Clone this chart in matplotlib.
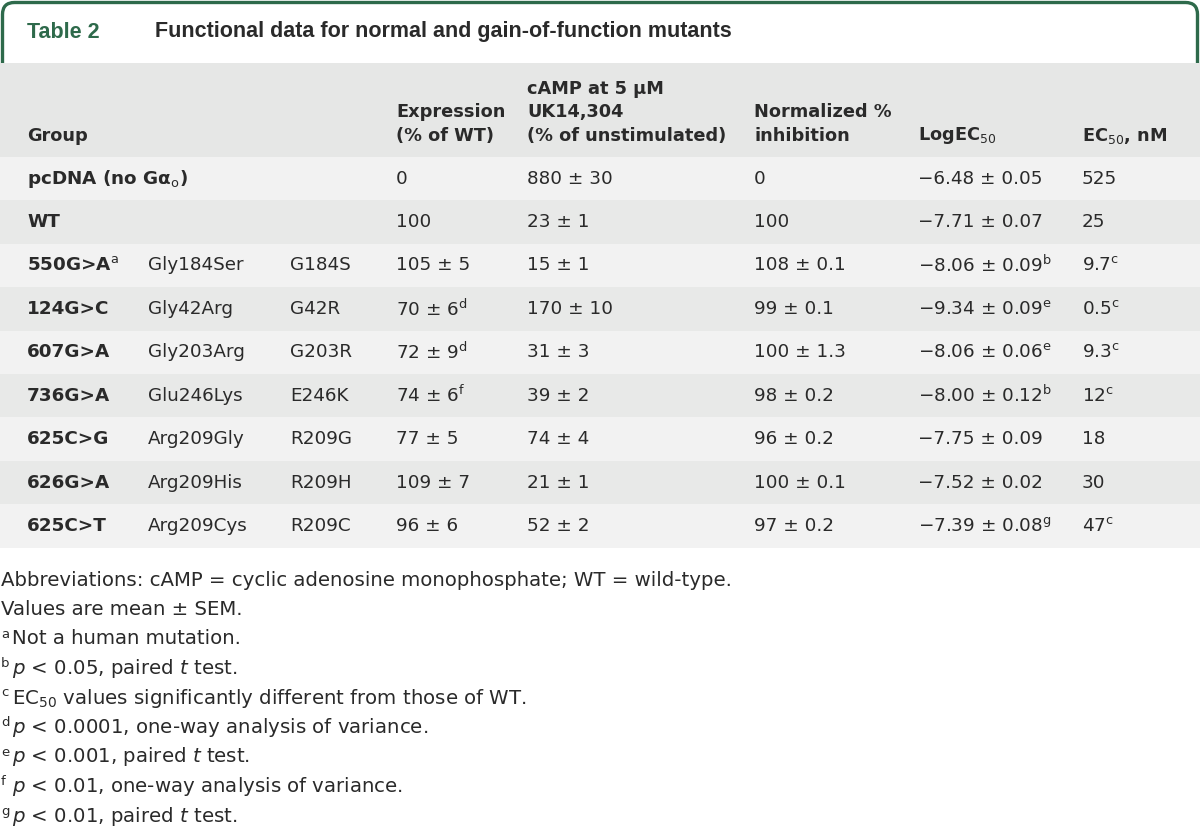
import matplotlib
matplotlib.use('Agg')
import matplotlib.pyplot as plt
import matplotlib.patches as mpatches

plt.rcParams['font.family'] = ['DejaVu Sans']
plt.rcParams['mathtext.fontset'] = 'custom'
plt.rcParams['mathtext.rm'] = 'DejaVu Sans'
plt.rcParams['mathtext.it'] = 'DejaVu Sans:italic'
plt.rcParams['mathtext.bf'] = 'DejaVu Sans:bold'

MINUS = '\u2212'

# ---- table data ----
table_no = 'Table 2'
title = 'Functional data for normal and gain-of-function mutants'

header_lines = [
    ['', '', '', '', 'cAMP at 5 \u03bcM', '', '', ''],
    ['', '', '', 'Expression', 'UK14,304', 'Normalized %', '', ''],
    ['Group', '', '', '(% of WT)', '(% of unstimulated)', 'inhibition',
     'LogEC$_{50}$', 'EC$_{50}$, nM'],
]

groups = ['pcDNA (no G\u03b1$_{\\mathrm{o}}$)', 'WT', '550G>A', '124G>C', '607G>A',
          '736G>A', '625C>G', '626G>A', '625C>T']
group_sup = ['', '', 'a', '', '', '', '', '', '']
protein = ['', '', 'Gly184Ser', 'Gly42Arg', 'Gly203Arg', 'Glu246Lys',
           'Arg209Gly', 'Arg209His', 'Arg209Cys']
short = ['', '', 'G184S', 'G42R', 'G203R', 'E246K', 'R209G', 'R209H', 'R209C']

expr = [0, 100, 105, 70, 72, 74, 77, 109, 96]
expr_sem = [None, None, 5, 6, 9, 6, 5, 7, 6]
expr_sup = ['', '', '', 'd', 'd', 'f', '', '', '']

camp = [880, 23, 15, 170, 31, 39, 74, 21, 52]
camp_sem = [30, 1, 1, 10, 3, 2, 4, 1, 2]

inhib = [0, 100, 108, 99, 100, 98, 96, 100, 97]
inhib_sem = [None, None, 0.1, 0.1, 1.3, 0.2, 0.2, 0.1, 0.2]

logec = [-6.48, -7.71, -8.06, -9.34, -8.06, -8.00, -7.75, -7.52, -7.39]
logec_sem = [0.05, 0.07, 0.09, 0.09, 0.06, 0.12, 0.09, 0.02, 0.08]
logec_sup = ['', '', 'b', 'e', 'e', 'b', '', '', 'g']

ec50 = [525, 25, 9.7, 0.5, 9.3, 12, 18, 30, 47]
ec50_sup = ['', '', 'c', 'c', 'c', 'c', '', '', 'c']

footnotes = [
    ('', 'Abbreviations: cAMP = cyclic adenosine monophosphate; WT = wild-type.'),
    ('', 'Values are mean \u00b1 SEM.'),
    ('a', 'Not a human mutation.'),
    ('b', '$p$ < 0.05, paired $t$ test.'),
    ('c', 'EC$_{50}$ values significantly different from those of WT.'),
    ('d', '$p$ < 0.0001, one-way analysis of variance.'),
    ('e', '$p$ < 0.001, paired $t$ test.'),
    ('f', '$p$ < 0.01, one-way analysis of variance.'),
    ('g', '$p$ < 0.01, paired $t$ test.'),
]


def sup(s):
    return '$^{\\mathrm{%s}}$' % s if s else ''


def num(v, fmt):
    s = format(v, fmt)
    return s.replace('-', MINUS)


def pm(m, e, fmt_m, fmt_e, s=''):
    if e is None:
        return num(m, fmt_m) + sup(s)
    return num(m, fmt_m) + ' \u00b1 ' + num(e, fmt_e) + sup(s)


# ---- layout (pixels) ----
W, H = 1200, 826
green = '#2e6a4b'
txt = '#2a2a2a'
col_x = [27, 148, 290, 396, 527, 754, 918, 1082]
head_top, head_bot = 63, 157
row_h = 43.4
fs = 13.2       # table body
fs_head = 12.8  # header
fs_note = 14.2  # footnotes

fig = plt.figure(figsize=(W / 100, H / 100), dpi=100)
ax = fig.add_axes([0, 0, 1, 1])
ax.set_xlim(0, W)
ax.set_ylim(H, 0)
ax.set_axis_off()

# title box with rounded top corners
box = mpatches.FancyBboxPatch((2.5, 2.5), W - 5, 120,
                              boxstyle='round,pad=0,rounding_size=12',
                              facecolor='white', edgecolor=green, linewidth=2.4,
                              zorder=1)
ax.add_patch(box)
ax.add_patch(mpatches.Rectangle((0, head_top), W, H - head_top,
                                facecolor='white', edgecolor='none', zorder=2))
ax.text(27, 32, table_no, color=green, fontsize=15.5, fontweight='bold',
        family='Liberation Sans', va='center', zorder=3)
ax.text(155, 32, title, color=txt, fontsize=15.5, fontweight='bold',
        family='Liberation Sans', va='center', zorder=3)

# header band
ax.add_patch(mpatches.Rectangle((0, head_top), W, head_bot - head_top,
                                facecolor='#e6e7e6', edgecolor='none', zorder=2))
for li, y in enumerate([89, 112, 136]):
    for ci, lab in enumerate(header_lines[li]):
        if lab:
            ax.text(col_x[ci], y, lab, color=txt, fontsize=fs_head, fontweight='bold',
                    va='center', zorder=3)

# body rows
for i in range(len(groups)):
    top = head_bot + i * row_h
    shade = '#f2f2f2' if i % 2 == 0 else '#e8e9e8'
    ax.add_patch(mpatches.Rectangle((0, top), W, row_h, facecolor=shade,
                                    edgecolor='none', zorder=2))
    y = top + row_h / 2
    cells = [
        protein[i],
        short[i],
        pm(expr[i], expr_sem[i], 'd', 'd', expr_sup[i]),
        pm(camp[i], camp_sem[i], 'd', 'd'),
        pm(inhib[i], inhib_sem[i], 'd', '.1f'),
        pm(logec[i], logec_sem[i], '.2f', '.2f', logec_sup[i]),
        num(ec50[i], 'g') + sup(ec50_sup[i]),
    ]
    ax.text(col_x[0], y, groups[i] + sup(group_sup[i]), color=txt, fontsize=fs,
            fontweight='bold', va='center', zorder=3)
    for ci, c in enumerate(cells):
        if c:
            ax.text(col_x[ci + 1], y, c, color=txt, fontsize=fs, va='center', zorder=3)

# footnotes
for k, (s, t) in enumerate(footnotes):
    y = 580 + k * 29.5
    if s:
        ax.text(1, y - 5, s, color=txt, fontsize=9.5, va='center', zorder=3)
        ax.text(12, y, t, color=txt, fontsize=fs_note, va='center', zorder=3)
    else:
        ax.text(1, y, t, color=txt, fontsize=fs_note, va='center', zorder=3)

fig.savefig('out.png', dpi=100, facecolor='white')
